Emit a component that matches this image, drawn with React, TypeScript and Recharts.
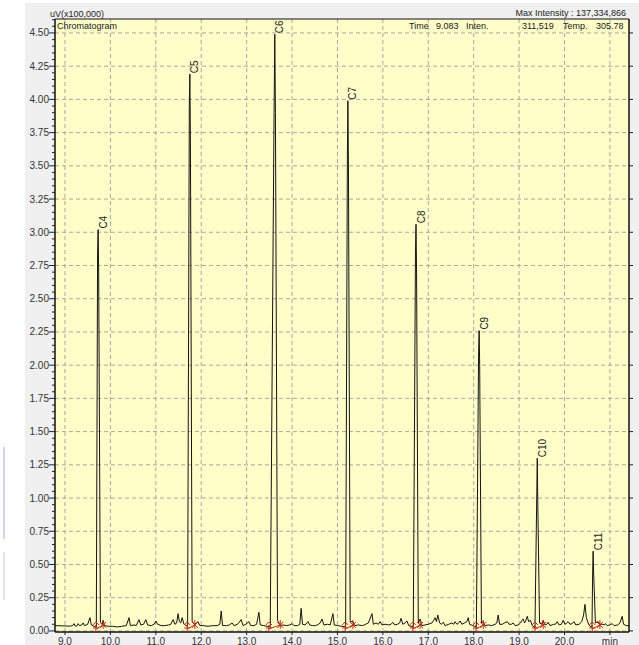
import React from 'react';
import {
  ComposedChart,
  Line,
  Scatter,
  XAxis,
  YAxis,
  CartesianGrid,
  ReferenceArea,
  ReferenceLine,
} from 'recharts';

// Chromatogram trace: [retention time (min), signal (uV x 100,000)]
const TRACE: [number, number][] = [
  [8.78, 0.04], [8.95, 0.038], [9.1, 0.036], [9.17, 0.04], [9.2, 0.055], [9.23, 0.035],
  [9.27, 0.04], [9.29, 0.055], [9.32, 0.04], [9.37, 0.045], [9.4, 0.06], [9.43, 0.04],
  [9.5, 0.05], [9.55, 0.1], [9.58, 0.045], [9.64, 0.035], [9.69, 0.03], [9.718, 2.85],
  [9.73, 3.02], [9.742, 2.7], [9.78, 0.06], [9.82, 0.05], [9.84, 0.08], [9.87, 0.04],
  [9.95, 0.035], [10.05, 0.035], [10.15, 0.03], [10.25, 0.035], [10.35, 0.04], [10.41, 0.1],
  [10.44, 0.04], [10.52, 0.045], [10.57, 0.04], [10.63, 0.085], [10.67, 0.045], [10.73, 0.05],
  [10.78, 0.085], [10.82, 0.045], [10.9, 0.04], [10.96, 0.05], [11.0, 0.075], [11.04, 0.05],
  [11.12, 0.04], [11.2, 0.04], [11.28, 0.045], [11.33, 0.05], [11.38, 0.085], [11.42, 0.05],
  [11.46, 0.06], [11.49, 0.13], [11.52, 0.07], [11.55, 0.06], [11.58, 0.1], [11.62, 0.05],
  [11.7, 0.035], [11.738, 3.95], [11.75, 4.19], [11.762, 3.7], [11.8, 0.07], [11.86, 0.05],
  [11.9, 0.06], [11.93, 0.07], [11.97, 0.04], [12.05, 0.04], [12.15, 0.035], [12.25, 0.04],
  [12.35, 0.04], [12.41, 0.05], [12.44, 0.15], [12.47, 0.04], [12.55, 0.04], [12.62, 0.045],
  [12.68, 0.06], [12.72, 0.04], [12.8, 0.05], [12.88, 0.085], [12.92, 0.04], [12.98, 0.05],
  [13.05, 0.07], [13.09, 0.04], [13.16, 0.04], [13.22, 0.05], [13.27, 0.14], [13.3, 0.045],
  [13.38, 0.04], [13.45, 0.035], [13.52, 0.03], [13.604, 3.9], [13.62, 4.49], [13.634, 3.9],
  [13.68, 0.08], [13.71, 0.06], [13.74, 0.04], [13.8, 0.045], [13.88, 0.04], [13.95, 0.045],
  [14.0, 0.055], [14.04, 0.04], [14.12, 0.04], [14.17, 0.05], [14.2, 0.17], [14.23, 0.05],
  [14.29, 0.045], [14.35, 0.07], [14.39, 0.045], [14.45, 0.04], [14.52, 0.04], [14.58, 0.05],
  [14.62, 0.06], [14.66, 0.09], [14.7, 0.045], [14.78, 0.05], [14.84, 0.045], [14.9, 0.13],
  [14.93, 0.045], [15.0, 0.04], [15.1, 0.035], [15.18, 0.03], [15.218, 3.55], [15.23, 3.99],
  [15.242, 3.5], [15.28, 0.07], [15.34, 0.07], [15.38, 0.04], [15.46, 0.045], [15.55, 0.04],
  [15.62, 0.05], [15.68, 0.06], [15.76, 0.13], [15.79, 0.05], [15.85, 0.06], [15.9, 0.05],
  [15.94, 0.07], [15.98, 0.045], [16.05, 0.05], [16.12, 0.045], [16.18, 0.05], [16.22, 0.065],
  [16.26, 0.045], [16.32, 0.05], [16.37, 0.06], [16.4, 0.095], [16.44, 0.05], [16.49, 0.06],
  [16.53, 0.075], [16.57, 0.04], [16.67, 0.03], [16.718, 2.85], [16.73, 3.06], [16.742, 2.7],
  [16.78, 0.06], [16.82, 0.09], [16.86, 0.04], [16.93, 0.045], [17.0, 0.05], [17.08, 0.06],
  [17.12, 0.08], [17.15, 0.1], [17.18, 0.07], [17.21, 0.12], [17.25, 0.06], [17.29, 0.05],
  [17.33, 0.065], [17.37, 0.04], [17.45, 0.05], [17.52, 0.06], [17.56, 0.05], [17.59, 0.07],
  [17.63, 0.05], [17.67, 0.06], [17.7, 0.075], [17.74, 0.05], [17.8, 0.06], [17.85, 0.07],
  [17.88, 0.1], [17.91, 0.05], [17.98, 0.04], [18.06, 0.03], [18.108, 2.1], [18.12, 2.26],
  [18.132, 2.0], [18.17, 0.06], [18.21, 0.07], [18.25, 0.04], [18.32, 0.045], [18.4, 0.04],
  [18.47, 0.05], [18.51, 0.06], [18.54, 0.12], [18.57, 0.05], [18.63, 0.05], [18.68, 0.06],
  [18.74, 0.07], [18.78, 0.05], [18.83, 0.05], [18.87, 0.06], [18.91, 0.04], [18.98, 0.045],
  [19.03, 0.06], [19.06, 0.08], [19.09, 0.09], [19.12, 0.06], [19.15, 0.08], [19.18, 0.11],
  [19.21, 0.07], [19.25, 0.08], [19.29, 0.04], [19.35, 0.025], [19.39, 1.05], [19.4, 1.3],
  [19.41, 1.0], [19.45, 0.06], [19.5, 0.05], [19.53, 0.08], [19.57, 0.045], [19.61, 0.05],
  [19.64, 0.065], [19.68, 0.04], [19.76, 0.05], [19.8, 0.05], [19.84, 0.07], [19.88, 0.045],
  [19.93, 0.05], [19.97, 0.08], [20.01, 0.05], [20.05, 0.06], [20.08, 0.07], [20.12, 0.05],
  [20.17, 0.055], [20.21, 0.07], [20.25, 0.045], [20.32, 0.05], [20.38, 0.07], [20.42, 0.12],
  [20.45, 0.2], [20.48, 0.1], [20.53, 0.05], [20.58, 0.03], [20.605, 0.03], [20.62, 0.45],
  [20.63, 0.6], [20.64, 0.45], [20.68, 0.06], [20.74, 0.07], [20.78, 0.05], [20.83, 0.05],
  [20.88, 0.045], [20.9, 0.055], [20.94, 0.04], [21.0, 0.045], [21.05, 0.055], [21.09, 0.04],
  [21.17, 0.045], [21.22, 0.06], [21.27, 0.11], [21.3, 0.05], [21.36, 0.04], [21.42, 0.04],
];

const PEAK_NAMES = ['C4', 'C5', 'C6', 'C7', 'C8', 'C9', 'C10', 'C11'];
const PEAK_TIMES = [9.73, 11.75, 13.62, 15.23, 16.73, 18.12, 19.4, 20.63];
const PEAK_HEIGHTS = [3.02, 4.19, 4.49, 3.99, 3.06, 2.26, 1.3, 0.6];
const PEAK_STARTS = [9.68, 11.69, 13.49, 15.17, 16.66, 18.05, 19.35, 20.61];
const PEAK_ENDS = [9.84, 11.86, 13.74, 15.34, 16.82, 18.21, 19.53, 20.78];
const START_LEVEL = 0.015;
const END_LEVEL = 0.045;

const X_TICKS = [9, 10, 11, 12, 13, 14, 15, 16, 17, 18, 19, 20, 21];
const X_LABELS = ['9.0', '10.0', '11.0', '12.0', '13.0', '14.0', '15.0', '16.0', '17.0', '18.0', '19.0', '20.0', 'min'];
const Y_MAJOR = [0, 0.25, 0.5, 0.75, 1, 1.25, 1.5, 1.75, 2, 2.25, 2.5, 2.75, 3, 3.25, 3.5, 3.75, 4, 4.25, 4.5];
const Y_LABELS = ['0.00', '0.25', '0.50', '0.75', '1.00', '1.25', '1.50', '1.75', '2.00', '2.25', '2.50', '2.75', '3.00', '3.25', '3.50', '3.75', '4.00', '4.25', '4.50'];

const X_DOMAIN: [number, number] = [8.78, 21.42];
const Y_DOMAIN: [number, number] = [-0.008, 4.605];

const Y_MINOR: number[] = [];
for (let i = 0; i <= 92; i++) Y_MINOR.push(Math.round(i * 5) / 100);

const FONT = "'Liberation Sans', Arial, sans-serif";

const data = TRACE.map(([t, v]) => ({ t, v }));
const peaks = PEAK_NAMES.map((name, i) => ({ name, t: PEAK_TIMES[i], v: PEAK_HEIGHTS[i] }));
const marks = [
  ...PEAK_STARTS.map((t) => ({ t, v: START_LEVEL, kind: 's' })),
  ...PEAK_ENDS.map((t) => ({ t, v: END_LEVEL, kind: 'e' })),
];

const isMajor = (v: number) => Y_MAJOR.some((m) => Math.abs(m - v) < 1e-6);

const LeftTick = (props: any) => {
  const { x, y, payload } = props;
  const v = payload.value;
  const major = isMajor(v);
  const idx = Y_MAJOR.findIndex((m) => Math.abs(m - v) < 1e-6);
  return (
    <g>
      <line x1={x - (major ? 6 : 3)} x2={x} y1={y} y2={y} stroke="#222" strokeWidth={1} />
      {major && (
        <text x={x - 6} y={y} textAnchor="end" dominantBaseline="central" fontSize={10} fontFamily={FONT} fill="#333">
          {Y_LABELS[idx]}
        </text>
      )}
    </g>
  );
};

const RightTick = (props: any) => {
  const { x, y } = props;
  return <line x1={x} x2={x + 4} y1={y} y2={y} stroke="#222" strokeWidth={1} />;
};

const BottomTick = (props: any) => {
  const { x, y, payload } = props;
  const idx = X_TICKS.indexOf(payload.value);
  return (
    <g>
      <line x1={x} x2={x} y1={y} y2={y + 3} stroke="#222" strokeWidth={1} />
      <text x={x} y={y + 9} textAnchor="middle" dominantBaseline="central" fontSize={10} fontFamily={FONT} fill="#333">
        {X_LABELS[idx]}
      </text>
    </g>
  );
};

const PeakLabel = (props: any) => {
  const { cx, cy, payload } = props;
  const x = cx + 5;
  const y = cy - 1;
  return (
    <text
      x={x}
      y={y}
      transform={`rotate(-90 ${x} ${y})`}
      textAnchor="start"
      dominantBaseline="central"
      fontSize={10}
      fontFamily={FONT}
      fill="#222"
    >
      {payload.name}
    </text>
  );
};

const Marker = (props: any) => {
  const { cx, cy, payload } = props;
  if (payload.kind === 's') {
    return (
      <g stroke="#c8281e" strokeWidth={1}>
        <line x1={cx} x2={cx} y1={cy - 4} y2={cy + 4} />
        <line x1={cx - 3} x2={cx + 3} y1={cy - 1} y2={cy - 1} />
        <line x1={cx - 3} x2={cx} y1={cy - 4} y2={cy - 7} />
        <line x1={cx + 3} x2={cx} y1={cy - 4} y2={cy - 7} />
      </g>
    );
  }
  return (
    <g stroke="#c8281e" strokeWidth={1}>
      <line x1={cx} x2={cx} y1={cy - 5} y2={cy + 4} />
      <line x1={cx - 3} x2={cx + 3} y1={cy - 3} y2={cy + 3} />
      <line x1={cx - 3} x2={cx + 3} y1={cy + 3} y2={cy - 3} />
    </g>
  );
};

const txt: React.CSSProperties = {
  position: 'absolute',
  fontFamily: FONT,
  fontSize: 9,
  color: '#222',
  whiteSpace: 'nowrap',
  lineHeight: '10px',
};

export default function App() {
  return (
    <div style={{ position: 'absolute', left: 0, top: 0, width: 639, height: 645, background: '#fff', overflow: 'hidden' }}>
      <div style={{ position: 'absolute', left: 25, top: 3, right: 0, bottom: 0, background: '#f0f0f0' }} />
      <div style={{ position: 'absolute', left: 3, top: 447, width: 2, height: 92, background: '#d4d4ec' }} />
      <div style={{ position: 'absolute', left: 3, top: 552, width: 2, height: 48, background: '#e2e2f0' }} />
      <div style={{ position: 'absolute', left: 0, top: 0 }}>
        <ComposedChart width={639} height={645} data={data} margin={{ top: 19, right: 0, left: 0, bottom: 0 }}>
          <CartesianGrid
            fill="#fffdc8"
            stroke="#a8a8a0"
            strokeDasharray="4 3"
            horizontalValues={Y_MAJOR}
            verticalValues={X_TICKS}
          />
          <XAxis
            type="number"
            dataKey="t"
            domain={X_DOMAIN}
            ticks={X_TICKS}
            allowDataOverflow
            height={13}
            tickSize={0}
            tickMargin={0}
            tickLine={false}
            axisLine={{ stroke: '#111' }}
            tick={BottomTick}
            interval={0}
          />
          <YAxis
            type="number"
            dataKey="v"
            domain={Y_DOMAIN}
            ticks={Y_MINOR}
            allowDataOverflow
            width={55}
            tickSize={0}
            tickMargin={0}
            tickLine={false}
            axisLine={{ stroke: '#111' }}
            tick={LeftTick}
            interval={0}
          />
          <YAxis
            yAxisId="r"
            orientation="right"
            type="number"
            domain={Y_DOMAIN}
            ticks={Y_MAJOR}
            allowDataOverflow
            width={10}
            tickSize={0}
            tickMargin={0}
            tickLine={false}
            axisLine={{ stroke: '#111' }}
            tick={RightTick}
            interval={0}
          />
          <ReferenceArea
            x1={X_DOMAIN[0]}
            x2={X_DOMAIN[1]}
            y1={Y_DOMAIN[0]}
            y2={Y_DOMAIN[1]}
            fill="none"
            fillOpacity={0}
            stroke="#111"
            strokeWidth={1}
            ifOverflow="visible"
          />
          {PEAK_STARTS.map((s, i) => (
            <ReferenceLine
              key={'seg' + i}
              segment={[
                { x: s, y: START_LEVEL },
                { x: PEAK_ENDS[i], y: END_LEVEL },
              ]}
              stroke="#c8281e"
              strokeWidth={1}
              ifOverflow="visible"
            />
          ))}
          <Line
            type="linear"
            dataKey="v"
            stroke="#141414"
            strokeWidth={1}
            dot={false}
            activeDot={false}
            isAnimationActive={false}
          />
          <Scatter data={marks} dataKey="v" shape={Marker} isAnimationActive={false} />
          <Scatter data={peaks} dataKey="v" shape={PeakLabel} isAnimationActive={false} />
        </ComposedChart>
      </div>
      <div style={{ ...txt, left: 50, top: 9 }}>uV(x100,000)</div>
      <div style={{ ...txt, left: 57, top: 21 }}>Chromatogram</div>
      <div style={{ ...txt, right: 13, top: 8 }}>Max Intensity : 137,334,866</div>
      <div style={{ ...txt, left: 409, top: 21 }}>Time</div>
      <div style={{ ...txt, left: 436, top: 21 }}>9.083</div>
      <div style={{ ...txt, left: 466, top: 21 }}>Inten.</div>
      <div style={{ ...txt, left: 522, top: 21 }}>311,519</div>
      <div style={{ ...txt, left: 563, top: 21 }}>Temp.</div>
      <div style={{ ...txt, left: 596, top: 21 }}>305.78</div>
    </div>
  );
}
